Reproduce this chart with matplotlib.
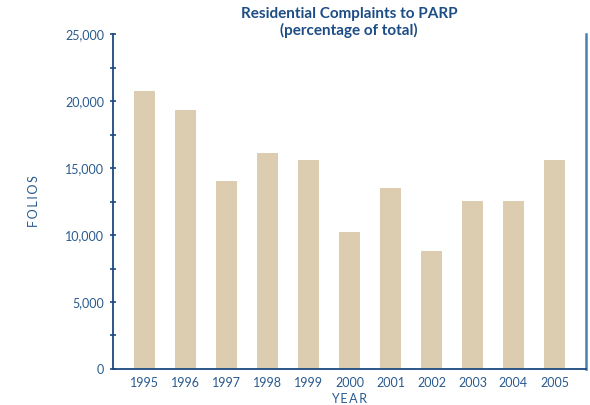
import numpy as np
import matplotlib.pyplot as plt
from matplotlib.ticker import MultipleLocator, FuncFormatter

years = ['1995', '1996', '1997', '1998', '1999', '2000',
         '2001', '2002', '2003', '2004', '2005']
folios = [20750, 19350, 14050, 16100, 15600, 10250,
          13500, 8800, 12550, 12550, 15600]

bar_color = '#dccdb0'
axis_color = '#1b4a7e'
text_color = '#2a5a8e'

plt.rcParams['font.family'] = ['Lato', 'DejaVu Sans']

fig = plt.figure(figsize=(5.9, 4.05), dpi=100)
ax = fig.add_axes([0.1915, 0.0889, 0.8017, 0.8271])

x = np.arange(len(years))
ax.bar(x, folios, width=0.51, color=bar_color)

ax.set_xlim(-0.77, 10.77)
ax.set_ylim(0, 25000)
ax.set_xticks(x)
ax.set_xticklabels(years)
ax.yaxis.set_major_locator(MultipleLocator(5000))
ax.yaxis.set_minor_locator(MultipleLocator(2500))
ax.yaxis.set_major_formatter(FuncFormatter(lambda v, p: f'{int(v):,}'))

ax.spines['top'].set_visible(False)
ax.spines['left'].set_color(axis_color)
ax.spines['left'].set_linewidth(1.3)
ax.spines['bottom'].set_color(axis_color)
ax.spines['bottom'].set_linewidth(1.3)
ax.spines['right'].set_color('#4a7fb2')
ax.spines['right'].set_linewidth(1.8)

ax.tick_params(axis='y', which='both', direction='inout', length=5,
               width=1.2, color=axis_color, labelcolor=text_color,
               labelsize=9, pad=4)
ax.tick_params(axis='x', length=0, labelcolor=text_color, labelsize=9, pad=6)

sp = '\u2009'
ax.set_ylabel(sp.join('FOLIOS'), color=text_color, fontsize=9, labelpad=18)
ax.set_xlabel(sp.join('YEAR'), color=text_color, fontsize=9, labelpad=3)
fig.text(0.5915, 0.945, 'Residential Complaints to PARP\n(percentage of total)',
         color='#1d4d85', fontsize=11, fontweight='bold',
         ha='center', va='center', linespacing=1.2)

fig.savefig('out.png', dpi=100)
